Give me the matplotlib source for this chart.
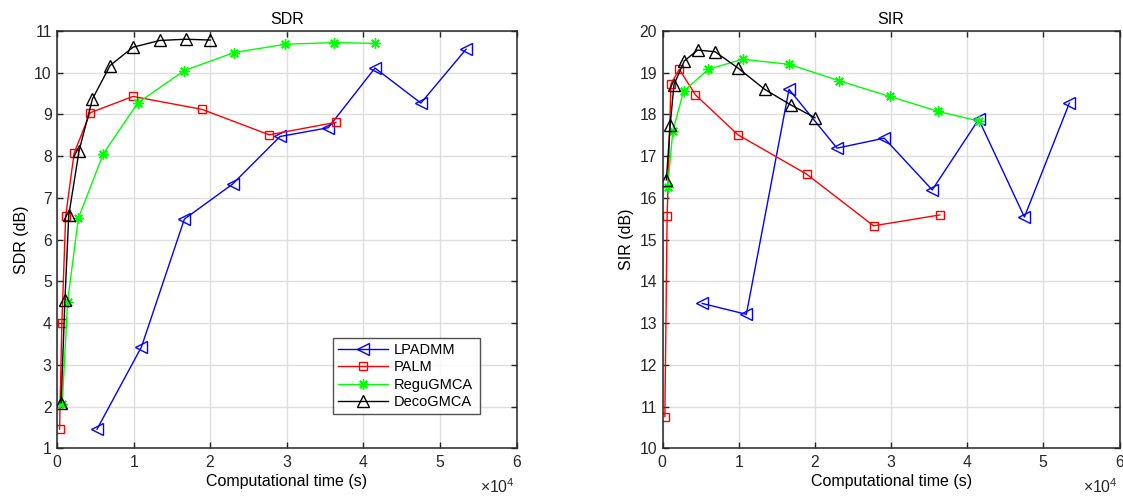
import matplotlib
matplotlib.use("Agg")
import matplotlib.pyplot as plt
from matplotlib.ticker import ScalarFormatter

plt.rcParams["font.family"] = ["Liberation Sans", "DejaVu Sans"]
plt.rcParams["mathtext.fontset"] = "custom"
plt.rcParams["mathtext.rm"] = "Liberation Sans"

# computational time (s) per iteration setting, one array per method
t_lpadmm = [5200, 11000, 16600, 22900, 29100, 35400, 41500, 47500, 53400]
t_palm = [300, 600, 1100, 2200, 4300, 9900, 18900, 27700, 36400]
t_regu = [650, 1350, 2750, 6000, 10500, 16600, 23100, 29800, 36200, 41500]
t_deco = [500, 1000, 1500, 2850, 4600, 6900, 9900, 13400, 16800, 20000]

# SDR (dB)
sdr_lpadmm = [1.46, 3.43, 6.49, 7.33, 8.47, 8.68, 10.11, 9.27, 10.56]
sdr_palm = [1.46, 4.00, 6.57, 8.07, 9.04, 9.43, 9.12, 8.51, 8.81]
sdr_regu = [2.06, 4.51, 6.51, 8.05, 9.27, 10.05, 10.48, 10.68, 10.72, 10.70]
sdr_deco = [2.09, 4.55, 6.58, 8.13, 9.37, 10.17, 10.61, 10.77, 10.80, 10.78]

# SIR (dB)
sir_lpadmm = [13.47, 13.21, 18.60, 17.19, 17.43, 16.19, 17.88, 15.54, 18.27]
sir_palm = [10.76, 15.57, 18.73, 19.08, 18.47, 17.51, 16.57, 15.33, 15.59]
sir_regu = [16.25, 17.60, 18.55, 19.08, 19.32, 19.20, 18.81, 18.43, 18.07, 17.84]
sir_deco = [16.43, 17.75, 18.71, 19.28, 19.54, 19.50, 19.11, 18.60, 18.23, 17.92]

labels = ["LPADMM", "PALM", "ReguGMCA", "DecoGMCA"]
colors = ["#0000ff", "#ff0000", "#00ff00", "#000000"]
markers = ["<", "s", (8, 2, 0), "^"]
msizes = [8.5, 5.8, 7.5, 8.5]
times = [t_lpadmm, t_palm, t_regu, t_deco]

AX_COLOR = "#262626"
GRID = "#dedede"
TICK_FS = 11.3
LABEL_FS = 11.5

fig = plt.figure(figsize=(11.23, 4.98), dpi=100)
ax_sdr = fig.add_axes([0.051, 0.0998, 0.409, 0.8382])
ax_sir = fig.add_axes([0.590, 0.0998, 0.407, 0.8382])


def style_axes(ax, title, ylabel, ylim):
    ax.set_xlim(0, 60000)
    ax.set_ylim(*ylim)
    ax.set_xticks(range(0, 60001, 10000))
    ax.set_yticks(range(ylim[0], ylim[1] + 1))
    # tick labels in units of 1e4 s, multiplier drawn separately below
    fmt = ScalarFormatter(useMathText=True)
    fmt.set_powerlimits((0, 0))
    ax.xaxis.set_major_formatter(fmt)
    ax.xaxis.get_offset_text().set_visible(False)
    ax.text(0.995, -0.07, r"$\times10^{4}$", transform=ax.transAxes,
            ha="right", va="top", fontsize=TICK_FS, color=AX_COLOR)
    ax.grid(True, color=GRID, linewidth=1.0)
    ax.set_axisbelow(True)
    for s in ax.spines.values():
        s.set_color(AX_COLOR)
        s.set_linewidth(1.1)
    ax.tick_params(direction="in", top=True, right=True, length=4,
                   width=1.0, colors=AX_COLOR, labelsize=TICK_FS, pad=4)
    ax.set_title(title, fontsize=LABEL_FS, color="black", pad=5)
    ax.set_xlabel("Computational time (s)", fontsize=LABEL_FS, color="black",
                  labelpad=3)
    ax.set_ylabel(ylabel, fontsize=LABEL_FS, color="black", labelpad=4)


sdr_series = [sdr_lpadmm, sdr_palm, sdr_regu, sdr_deco]
sir_series = [sir_lpadmm, sir_palm, sir_regu, sir_deco]

for ax, series in ((ax_sdr, sdr_series), (ax_sir, sir_series)):
    for t, y, lab, c, m, ms in zip(times, series, labels, colors, markers, msizes):
        ax.plot(t, y, color=c, linewidth=1.0, marker=m, markersize=ms,
                markerfacecolor="none", markeredgecolor=c,
                markeredgewidth=1.0, label=lab)

style_axes(ax_sdr, "SDR", "SDR (dB)", (1, 11))
style_axes(ax_sir, "SIR", "SIR (dB)", (10, 20))

leg = ax_sdr.legend(loc="lower left", bbox_to_anchor=(0.6, 0.082, 0.32, 0.178),
                    mode="expand", fontsize=10.5, frameon=True, fancybox=False,
                    borderpad=0.35, labelspacing=0.23, handlelength=3.4,
                    handletextpad=0.4, borderaxespad=0)
leg.get_frame().set_edgecolor(AX_COLOR)
leg.get_frame().set_linewidth(1.0)

fig.savefig("out.png", dpi=100, facecolor="white")
